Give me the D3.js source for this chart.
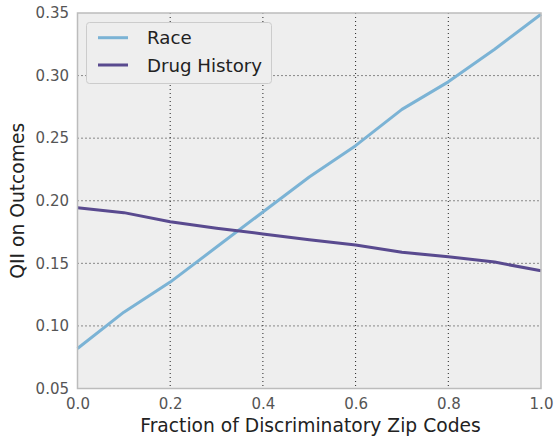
<!DOCTYPE html>
<html>
<head>
<meta charset="utf-8">
<script src="https://cdn.jsdelivr.net/npm/d3@7"></script>
<style>
  body { margin: 0; background: #fff; }
  text { font-family: "DejaVu Sans", sans-serif; }
</style>
</head>
<body>
<div id="container"></div>
<script>
// Data
const fractions = [0.0, 0.1, 0.2, 0.3, 0.4, 0.5, 0.6, 0.7, 0.8, 0.9, 1.0];
const raceValues = [0.082, 0.111, 0.135, 0.163, 0.191, 0.219, 0.244, 0.273, 0.295, 0.321, 0.349];
const drugValues = [0.1945, 0.1905, 0.1833, 0.178, 0.1735, 0.1688, 0.1646, 0.1588, 0.1553, 0.151, 0.144];
const xTicks = [0.0, 0.2, 0.4, 0.6, 0.8, 1.0];
const yTicks = [0.05, 0.10, 0.15, 0.20, 0.25, 0.30, 0.35];

const series = [
  { name: "Race", values: raceValues, color: "#7bb3d5" },
  { name: "Drug History", values: drugValues, color: "#594a8f" },
];

// Dimensions
const width = 556, height = 438;
const margin = { top: 13, right: 15, bottom: 49.5, left: 77.5 };

const svg = d3.select("#container")
  .append("svg")
  .attr("width", width)
  .attr("height", height);

const x = d3.scaleLinear().domain([0, 1]).range([margin.left, width - margin.right]);
const y = d3.scaleLinear().domain([0.05, 0.35]).range([height - margin.bottom, margin.top]);

// Plot background
svg.append("rect")
  .attr("x", x(0))
  .attr("y", y(0.35))
  .attr("width", x(1) - x(0))
  .attr("height", y(0.05) - y(0.35))
  .attr("fill", "#eeeeee");

// Grid lines (dotted)
svg.append("g")
  .selectAll("line")
  .data(xTicks.slice(1, -1))
  .join("line")
  .attr("x1", d => x(d)).attr("x2", d => x(d))
  .attr("y1", y(0.35)).attr("y2", y(0.05))
  .attr("stroke", "#222")
  .attr("stroke-width", 1)
  .attr("stroke-dasharray", "1,3");

svg.append("g")
  .selectAll("line")
  .data(yTicks.slice(1, -1))
  .join("line")
  .attr("x1", x(0)).attr("x2", x(1))
  .attr("y1", d => y(d)).attr("y2", d => y(d))
  .attr("stroke", "#222")
  .attr("stroke-width", 1)
  .attr("stroke-dasharray", "1,3");

// Axes (labels only, no tick marks)
const xAxis = svg.append("g")
  .attr("transform", `translate(0,${y(0.05)})`)
  .call(d3.axisBottom(x).tickValues(xTicks).tickFormat(d3.format(".1f")).tickSize(0).tickPadding(10));

const yAxis = svg.append("g")
  .attr("transform", `translate(${x(0)},0)`)
  .call(d3.axisLeft(y).tickValues(yTicks).tickFormat(d3.format(".2f")).tickSize(0).tickPadding(8.5));

[xAxis, yAxis].forEach(g => {
  g.select(".domain").remove();
  g.selectAll("text")
    .attr("fill", "#555")
    .style("font-size", "15px")
    .style("font-family", "DejaVu Sans, sans-serif");
});

// Lines
const line = d3.line()
  .x((d, i) => x(fractions[i]))
  .y(d => y(d));

svg.append("g")
  .selectAll("path")
  .data(series)
  .join("path")
  .attr("d", d => line(d.values))
  .attr("fill", "none")
  .attr("stroke", d => d.color)
  .attr("stroke-width", 3)
  .attr("stroke-linejoin", "round");

// Plot frame
svg.append("rect")
  .attr("x", x(0))
  .attr("y", y(0.35))
  .attr("width", x(1) - x(0))
  .attr("height", y(0.05) - y(0.35))
  .attr("fill", "none")
  .attr("stroke", "#bcbcbc")
  .attr("stroke-width", 1.5);

// Legend
const legend = svg.append("g");
legend.append("rect")
  .attr("x", 86.5).attr("y", 22.5)
  .attr("width", 185).attr("height", 61)
  .attr("rx", 3)
  .attr("fill", "#eeeeee")
  .attr("stroke", "#cccccc")
  .attr("stroke-width", 1);

const items = legend.selectAll("g.item")
  .data(series)
  .join("g")
  .attr("class", "item")
  .attr("transform", (d, i) => `translate(0,${37.7 + i * 27.3})`);

items.append("line")
  .attr("x1", 98).attr("x2", 128)
  .attr("stroke", d => d.color)
  .attr("stroke-width", 3);

items.append("text")
  .attr("x", 147)
  .attr("y", 6.5)
  .attr("fill", "#222")
  .style("font-size", "18.2px")
  .text(d => d.name);

// Axis titles
svg.append("text")
  .attr("x", 310.5)
  .attr("y", 431.5)
  .attr("text-anchor", "middle")
  .attr("fill", "#222")
  .style("font-size", "18.7px")
  .text("Fraction of Discriminatory Zip Codes");

svg.append("text")
  .attr("transform", `translate(24,${(y(0.05) + y(0.35)) / 2}) rotate(-90)`)
  .attr("text-anchor", "middle")
  .attr("fill", "#222")
  .style("font-size", "18.7px")
  .text("QII on Outcomes");
</script>
</body>
</html>
